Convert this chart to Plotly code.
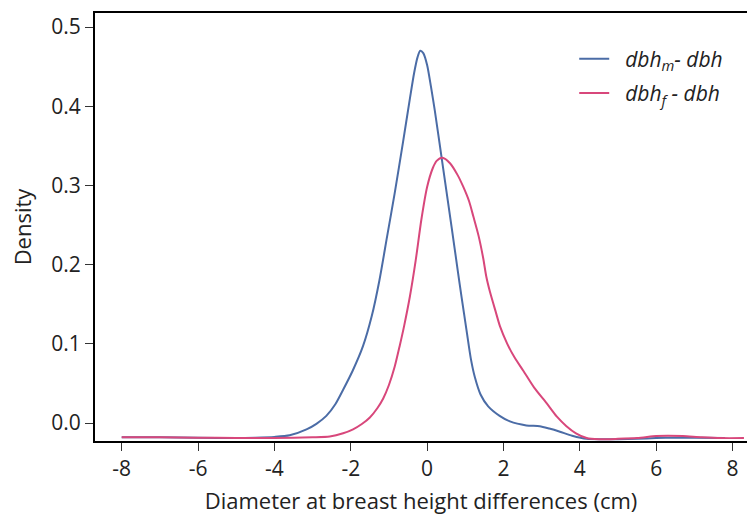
import plotly.graph_objects as go

# Kernel density estimates of diameter-at-breast-height differences (cm)
x_m = [-8.0, -7.0, -6.0, -5.0, -4.5, -4.0, -3.6, -3.16, -2.9, -2.64, -2.4, -2.2,
       -1.95, -1.68, -1.45, -1.25, -1.05, -0.85, -0.63, -0.45, -0.34, -0.25, -0.18,
       -0.1, 0.0, 0.1, 0.2, 0.38, 0.64, 0.81, 0.9, 1.03, 1.15, 1.25, 1.4, 1.6,
       1.9, 2.17, 2.6, 2.95, 3.2, 3.48, 3.8, 4.18, 4.6, 5.0, 5.5, 6.0, 6.5, 7.0, 7.8]
y_m = [-0.018, -0.018, -0.0185, -0.019, -0.0185, -0.0175, -0.0155, -0.008, -0.001,
       0.009, 0.024, 0.042, 0.066, 0.097, 0.135, 0.18, 0.235, 0.29, 0.355, 0.41,
       0.442, 0.462, 0.47, 0.467, 0.452, 0.425, 0.395, 0.335, 0.248, 0.19,
       0.16, 0.118, 0.08, 0.058, 0.036, 0.021, 0.009, 0.002, -0.003, -0.004,
       -0.007, -0.011, -0.016, -0.020, -0.0205, -0.0205, -0.020, -0.019, -0.0185,
       -0.0185, -0.019]

x_f = [-8.0, -7.0, -6.0, -5.0, -4.5, -3.5, -3.0, -2.55, -2.2, -1.94, -1.7, -1.5,
       -1.3, -1.15, -1.0, -0.85, -0.72, -0.6, -0.45, -0.3, -0.15, 0.0, 0.15, 0.25,
       0.4, 0.6, 0.8, 0.94, 1.1, 1.21, 1.35, 1.47, 1.55, 1.65, 1.8, 1.91, 2.1, 2.3,
       2.52, 2.8, 3.13, 3.4, 3.65, 3.9, 4.18, 4.5, 5.0, 5.5, 6.0, 6.3, 6.7, 7.2,
       7.7, 8.3]
y_f = [-0.018, -0.018, -0.0185, -0.019, -0.019, -0.0185, -0.018, -0.017, -0.013,
       -0.008, -0.001, 0.007, 0.019, 0.031, 0.048, 0.071, 0.097, 0.123, 0.16,
       0.205, 0.257, 0.298, 0.322, 0.331, 0.335, 0.328, 0.313, 0.299, 0.28,
       0.261, 0.236, 0.208, 0.185, 0.165, 0.14, 0.122, 0.1, 0.082, 0.066, 0.045,
       0.025, 0.008, -0.004, -0.013, -0.019, -0.0205, -0.020, -0.019, -0.0165,
       -0.016, -0.0165, -0.018, -0.019, -0.019]

x_ticks = [-8, -6, -4, -2, 0, 2, 4, 6, 8]
y_ticks = [0.0, 0.1, 0.2, 0.3, 0.4, 0.5]

BLUE = "#4b6ca6"
PINK = "#d8477b"
FONT = "Open Sans"
INK = "#222222"

fig = go.Figure()
fig.add_trace(go.Scatter(
    x=x_m, y=y_m, mode="lines", name="&nbsp;&nbsp;<i>dbh<sub>m</sub>- dbh</i>",
    line=dict(color=BLUE, width=2, shape="spline", smoothing=0.7),
    legend="legend",
))
fig.add_trace(go.Scatter(
    x=x_f, y=y_f, mode="lines", name="&nbsp;&nbsp;<i>dbh<sub>f</sub> - dbh</i>",
    line=dict(color=PINK, width=2, shape="spline", smoothing=0.7),
    legend="legend2",
))

legend_style = dict(
    xanchor="left", yanchor="top", bgcolor="rgba(0,0,0,0)",
    font=dict(family=FONT, size=21, color=INK),
    itemwidth=30,
)

fig.update_layout(
    width=747, height=521,
    margin=dict(l=95, r=0, t=13, b=80),
    plot_bgcolor="white", paper_bgcolor="white",
    font=dict(family=FONT, size=21, color=INK),
    showlegend=True,
    legend=dict(x=0.735, y=0.94, **legend_style),
    legend2=dict(x=0.735, y=0.86, **legend_style),
    xaxis=dict(
        range=[-8.7, 8.38], tickvals=x_ticks, ticktext=[str(v) for v in x_ticks],
        showgrid=False, zeroline=False,
        showline=True, linecolor="black", linewidth=2, mirror=True,
        ticks="outside", ticklen=8, tickcolor="#333333", tickwidth=1,
        tickfont=dict(family=FONT, size=21, color=INK),
        title=dict(text="Diameter at breast height differences (cm)",
                   font=dict(family=FONT, size=22, color=INK), standoff=12),
    ),
    yaxis=dict(
        range=[-0.0227, 0.5177], tickvals=y_ticks,
        ticktext=[f"{v:.1f}" for v in y_ticks],
        showgrid=False, zeroline=False,
        showline=True, linecolor="black", linewidth=2,
        ticks="outside", ticklen=8, tickcolor="#333333", tickwidth=1,
        tickfont=dict(family=FONT, size=21, color=INK),
        title=dict(text="Density", font=dict(family=FONT, size=22, color=INK),
                   standoff=14),
    ),
)

fig.write_html("out.html")
